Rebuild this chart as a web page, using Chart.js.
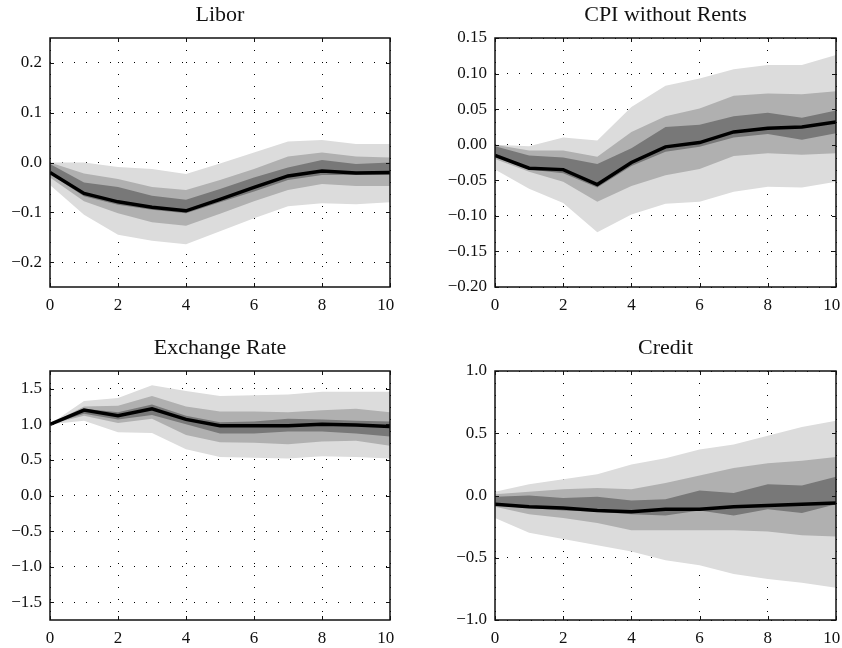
<!DOCTYPE html>
<html>
<head>
<meta charset="utf-8">
<script src="https://cdn.jsdelivr.net/npm/chart.js@4.4.0/dist/chart.umd.min.js"></script>
<style>
  body { margin: 0; background: #fff; width: 842px; height: 648px; position: relative; overflow: hidden; }
  canvas { position: absolute; }
</style>
</head>
<body>
<canvas id="libor" width="398" height="317" style="left:0;top:0"></canvas>
<canvas id="cpi" width="421" height="317" style="left:421px;top:0"></canvas>
<canvas id="fx" width="398" height="317" style="left:0;top:333px"></canvas>
<canvas id="credit" width="421" height="317" style="left:421px;top:333px"></canvas>
<script>
const steps = [0, 1, 2, 3, 4, 5, 6, 7, 8, 9, 10];
const xTicks = [0, 2, 4, 6, 8, 10];

// Libor
const liborMedian    = [-0.020, -0.062, -0.079, -0.090, -0.097, -0.074, -0.050, -0.027, -0.017, -0.021, -0.020];
const liborDarkLow   = [-0.023, -0.068, -0.085, -0.095, -0.102, -0.080, -0.058, -0.035, -0.025, -0.025, -0.025];
const liborDarkHigh  = [-0.003, -0.040, -0.049, -0.067, -0.075, -0.053, -0.030, -0.010, 0.005, -0.003, 0.000];
const liborMidLow    = [-0.030, -0.078, -0.102, -0.120, -0.127, -0.103, -0.078, -0.055, -0.043, -0.047, -0.047];
const liborMidHigh   = [0.000, -0.022, -0.033, -0.049, -0.055, -0.035, -0.013, 0.012, 0.020, 0.012, 0.010];
const liborOuterLow  = [-0.045, -0.105, -0.145, -0.157, -0.164, -0.138, -0.112, -0.088, -0.082, -0.084, -0.080];
const liborOuterHigh = [0.000, 0.000, -0.009, -0.013, -0.023, -0.002, 0.020, 0.042, 0.045, 0.037, 0.037];
const liborTicks = [-0.2, -0.1, 0, 0.1, 0.2];

// CPI without Rents
const cpiMedian    = [-0.015, -0.033, -0.035, -0.056, -0.025, -0.003, 0.003, 0.018, 0.023, 0.025, 0.032];
const cpiDarkLow   = [-0.017, -0.035, -0.040, -0.060, -0.030, -0.010, -0.003, 0.010, 0.015, 0.007, 0.016];
const cpiDarkHigh  = [-0.002, -0.015, -0.018, -0.027, -0.005, 0.025, 0.028, 0.040, 0.045, 0.038, 0.048];
const cpiMidLow    = [-0.020, -0.038, -0.052, -0.080, -0.058, -0.043, -0.034, -0.016, -0.012, -0.014, -0.012];
const cpiMidHigh   = [0.000, -0.008, -0.008, -0.017, 0.018, 0.040, 0.051, 0.069, 0.072, 0.071, 0.075];
const cpiOuterLow  = [-0.035, -0.062, -0.082, -0.123, -0.098, -0.083, -0.080, -0.066, -0.059, -0.060, -0.052];
const cpiOuterHigh = [0.000, -0.002, 0.010, 0.006, 0.053, 0.083, 0.093, 0.106, 0.112, 0.112, 0.126];
const cpiTicks = [-0.2, -0.15, -0.1, -0.05, 0, 0.05, 0.1, 0.15];

// Exchange Rate
const fxMedian    = [1.00, 1.20, 1.12, 1.22, 1.07, 0.98, 0.98, 0.98, 1.00, 0.99, 0.97];
const fxDarkLow   = [1.00, 1.15, 1.07, 1.13, 1.00, 0.87, 0.87, 0.90, 0.90, 0.87, 0.83];
const fxDarkHigh  = [1.00, 1.22, 1.17, 1.28, 1.12, 1.03, 1.04, 1.08, 1.07, 1.05, 1.04];
const fxMidLow    = [1.00, 1.12, 1.02, 1.08, 0.85, 0.75, 0.74, 0.72, 0.76, 0.77, 0.70];
const fxMidHigh   = [1.00, 1.25, 1.26, 1.40, 1.25, 1.18, 1.18, 1.17, 1.20, 1.22, 1.17];
const fxOuterLow  = [1.00, 1.05, 0.89, 0.88, 0.65, 0.54, 0.53, 0.52, 0.55, 0.54, 0.52];
const fxOuterHigh = [1.00, 1.33, 1.37, 1.55, 1.47, 1.40, 1.41, 1.42, 1.46, 1.46, 1.46];
const fxTicks = [-1.5, -1, -0.5, 0, 0.5, 1, 1.5];

// Credit
const creditMedian    = [-0.07, -0.09, -0.10, -0.12, -0.13, -0.11, -0.11, -0.09, -0.08, -0.07, -0.06];
const creditDarkLow   = [-0.08, -0.10, -0.12, -0.13, -0.15, -0.16, -0.12, -0.16, -0.11, -0.14, -0.07];
const creditDarkHigh  = [-0.01, 0.00, -0.02, -0.01, -0.04, -0.03, 0.04, 0.02, 0.09, 0.08, 0.15];
const creditMidLow    = [-0.09, -0.15, -0.18, -0.22, -0.28, -0.28, -0.28, -0.28, -0.29, -0.32, -0.33];
const creditMidHigh   = [0.01, 0.03, 0.05, 0.06, 0.05, 0.10, 0.16, 0.22, 0.26, 0.28, 0.31];
const creditOuterLow  = [-0.18, -0.30, -0.35, -0.40, -0.45, -0.52, -0.56, -0.63, -0.67, -0.70, -0.74];
const creditOuterHigh = [0.03, 0.09, 0.13, 0.17, 0.25, 0.30, 0.37, 0.41, 0.48, 0.55, 0.60];
const creditTicks = [-1, -0.5, 0, 0.5, 1];

const FONT = "'Liberation Serif', 'Times New Roman', serif";
const LIGHT = '#dcdcdc', MID = '#b0b0b0', DARK = '#787878';

// box round the plot, with ticks pointing inwards
const framePlugin = {
  id: 'frame',
  afterDraw(chart) {
    const { ctx, chartArea: a, scales: { x, y } } = chart;
    ctx.save();
    ctx.strokeStyle = '#111';
    ctx.lineWidth = 1;
    ctx.beginPath();
    x.ticks.forEach(t => {
      const px = Math.round(x.getPixelForValue(t.value)) + 0.5;
      ctx.moveTo(px, a.bottom); ctx.lineTo(px, a.bottom - 4);
      ctx.moveTo(px, a.top); ctx.lineTo(px, a.top + 4);
    });
    y.ticks.forEach(t => {
      const py = Math.round(y.getPixelForValue(t.value)) + 0.5;
      ctx.moveTo(a.left, py); ctx.lineTo(a.left + 4, py);
      ctx.moveTo(a.right, py); ctx.lineTo(a.right - 4, py);
    });
    ctx.stroke();
    ctx.lineWidth = 1.5;
    ctx.strokeRect(a.left, a.top, a.right - a.left, a.bottom - a.top);
    ctx.restore();
  }
};

function pts(arr) {
  return steps.map((s, i) => ({ x: s, y: arr[i] }));
}

function band(low, high, color) {
  return [
    { data: pts(low), borderWidth: 0, pointRadius: 0, fill: false },
    { data: pts(high), borderWidth: 0, pointRadius: 0, fill: '-1', backgroundColor: color }
  ];
}

function fmt(v, d) {
  const s = Math.abs(v).toFixed(d);
  return v < -1e-9 ? '\u2212' + s : s;
}

function fanChart(id, title, median, bands, yTicks, yMin, yMax, dec, yWidth, padRight) {
  new Chart(id, {
    type: 'line',
    data: {
      datasets: [
        { data: pts(median), borderColor: '#000', borderWidth: 3.5, pointRadius: 0, fill: false },
        ...band(bands[0], bands[1], DARK),
        ...band(bands[2], bands[3], MID),
        ...band(bands[4], bands[5], LIGHT)
      ]
    },
    options: {
      responsive: false,
      animation: false,
      layout: { padding: { right: padRight } },
      plugins: {
        legend: { display: false },
        tooltip: { enabled: false },
        filler: { drawTime: 'beforeDatasetsDraw' },
        title: {
          display: true,
          text: title,
          fullSize: false,
          color: '#111',
          font: { family: FONT, size: 22, weight: 'normal' },
          padding: { top: 2, bottom: 9.6 }
        }
      },
      scales: {
        x: {
          type: 'linear',
          min: 0, max: 10,
          afterBuildTicks: s => { s.ticks = xTicks.map(v => ({ value: v })); },
          afterFit: s => { s.height = 30; s.paddingLeft = 0; s.paddingRight = 0; },
          ticks: {
            color: '#111', padding: 8, font: { family: FONT, size: 17 },
            // last label sits a little to the left, as in the original
            callback: v => (v === 10 ? '10\u2002' : String(v))
          },
          grid: { color: '#000', lineWidth: 1, drawTicks: false },
          border: { display: false, dash: [1, 11] }
        },
        y: {
          min: yMin, max: yMax,
          afterBuildTicks: s => { s.ticks = yTicks.map(v => ({ value: v })); },
          afterFit: s => { s.width = yWidth; },
          ticks: {
            color: '#111', padding: 8, font: { family: FONT, size: 17 },
            callback: v => fmt(v, dec)
          },
          grid: { color: '#000', lineWidth: 1, drawTicks: false },
          border: { display: false, dash: [1, 11] }
        }
      }
    },
    plugins: [framePlugin]
  });
}

fanChart('libor', 'Libor', liborMedian,
  [liborDarkLow, liborDarkHigh, liborMidLow, liborMidHigh, liborOuterLow, liborOuterHigh],
  liborTicks, -0.25, 0.25, 1, 50, 8);
fanChart('cpi', 'CPI without Rents', cpiMedian,
  [cpiDarkLow, cpiDarkHigh, cpiMidLow, cpiMidHigh, cpiOuterLow, cpiOuterHigh],
  cpiTicks, -0.2, 0.15, 2, 74, 6);
fanChart('fx', 'Exchange Rate', fxMedian,
  [fxDarkLow, fxDarkHigh, fxMidLow, fxMidHigh, fxOuterLow, fxOuterHigh],
  fxTicks, -1.75, 1.75, 1, 50, 8);
fanChart('credit', 'Credit', creditMedian,
  [creditDarkLow, creditDarkHigh, creditMidLow, creditMidHigh, creditOuterLow, creditOuterHigh],
  creditTicks, -1, 1, 1, 74, 6);
</script>
</body>
</html>
